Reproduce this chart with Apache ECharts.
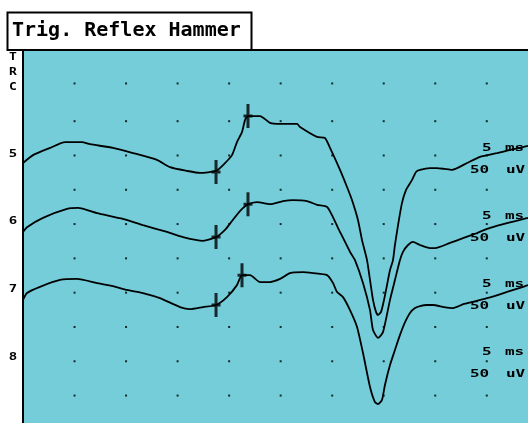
<!DOCTYPE html>
<html>
<head>
<meta charset="utf-8">
<script src="https://cdn.jsdelivr.net/npm/echarts@6/dist/echarts.min.js"></script>
<style>
  html, body { margin: 0; padding: 0; background: #fff; }
  #chart { width: 528px; height: 423px; }
</style>
</head>
<body>
<div id="chart"></div>
<script>
// x in ms, y in screen divisions (50 uV per division)
const trace5 = [
  [0, 6.78], [0.97, 7.01], [2.62, 7.22], [4.08, 7.39], [5.72, 7.39], [6.5, 7.33],
  [8.73, 7.22], [10.67, 7.07], [13.0, 6.87], [14.26, 6.66], [15.91, 6.55], [17.17, 6.49],
  [18.73, 6.55], [19.41, 6.72], [20.28, 7.01], [20.76, 7.39], [21.25, 7.68], [21.54, 8.03],
  [21.83, 8.15], [23.0, 8.15], [23.97, 7.95], [24.94, 7.92], [26.59, 7.92], [26.88, 7.83],
  [28.53, 7.54], [29.3, 7.51], [29.79, 7.22], [30.76, 6.58], [31.44, 6.08], [31.92, 5.7],
  [32.5, 5.12], [32.89, 4.54], [33.38, 3.95], [33.67, 3.37], [33.96, 2.79], [34.25, 2.44],
  [34.45, 2.35], [34.74, 2.44], [35.03, 2.79], [35.32, 3.22], [35.61, 3.66], [35.9, 3.95],
  [36.09, 4.39], [36.39, 4.97], [36.77, 5.61], [37.16, 5.99], [37.74, 6.28], [38.13, 6.52],
  [38.52, 6.58], [39.49, 6.63], [40.17, 6.63], [40.85, 6.61], [41.63, 6.58], [43.08, 6.78],
  [44.34, 6.96], [45.99, 7.07], [47.25, 7.16], [49.0, 7.28]
];
const trace6 = [
  [0, 4.77], [0.39, 4.91], [1.94, 5.18], [4.27, 5.44], [5.34, 5.47], [7.18, 5.32],
  [9.7, 5.15], [11.64, 4.97], [13.97, 4.77], [15.53, 4.62], [17.47, 4.51], [18.73, 4.62],
  [19.6, 4.83], [20.28, 5.09], [21.05, 5.38], [21.83, 5.58], [22.71, 5.64], [23.97, 5.58],
  [25.23, 5.67], [26.2, 5.7], [27.56, 5.67], [28.53, 5.56], [29.5, 5.5], [29.98, 5.26],
  [30.56, 4.89], [31.15, 4.54], [31.73, 4.19], [32.21, 3.95], [32.99, 3.28], [33.67, 2.49],
  [33.96, 1.91], [34.45, 1.68], [34.93, 1.85], [35.61, 2.79], [36.09, 3.37], [36.58, 3.95],
  [36.87, 4.19], [37.36, 4.39], [37.84, 4.48], [38.52, 4.39], [39.49, 4.3], [39.98, 4.3],
  [41.43, 4.45], [42.69, 4.59], [44.05, 4.74], [45.31, 4.89], [46.96, 5.03], [48.22, 5.12],
  [49.0, 5.18]
];
const trace7 = [
  [0, 2.79], [0.39, 2.99], [1.65, 3.17], [3.59, 3.37], [5.24, 3.4], [7.18, 3.28],
  [8.73, 3.19], [10.09, 3.08], [11.64, 2.99], [13.29, 2.84], [15.23, 2.58], [16.2, 2.52],
  [17.47, 2.58], [18.73, 2.64], [19.79, 2.87], [20.76, 3.22], [21.25, 3.51], [22.03, 3.51],
  [23.0, 3.31], [23.97, 3.31], [24.94, 3.4], [25.91, 3.57], [27.17, 3.6], [28.14, 3.57],
  [29.5, 3.51], [30.08, 3.28], [30.47, 3.02], [31.05, 2.87], [31.73, 2.49], [32.41, 2.0],
  [32.99, 1.24], [33.67, 0.25], [34.15, -0.19], [34.45, -0.25], [34.83, -0.13], [35.12, 0.31],
  [35.61, 0.89], [36.09, 1.33], [36.58, 1.77], [37.07, 2.14], [37.55, 2.41], [38.04, 2.55],
  [38.52, 2.61], [39.2, 2.64], [39.78, 2.64], [40.85, 2.58], [41.72, 2.55], [42.79, 2.67],
  [45.02, 2.84], [46.96, 3.02], [48.22, 3.14], [49.0, 3.22]
];
// latency cursors (onset / peak) on each trace
const cursors = [
  [18.73, 6.52], [21.83, 8.15],
  [18.73, 4.62], [21.83, 5.58],
  [18.73, 2.64], [21.25, 3.51]
];
const dotTimes = [5, 10, 15, 20, 25, 30, 35, 40, 45];
const dotLevels = [0, 1, 2, 3, 4, 5, 6, 7, 8, 9.1];
const channels = ['5', '6', '7', '8'];
const sideLetters = ['T', 'R', 'C'];
const titleText = 'Trig. Reflex Hammer';
const scaleTime = ['5', 'ms'];
const scaleAmp = ['50', 'uV'];

const dots = [];
dotTimes.forEach(t => dotLevels.forEach(v => dots.push([t, v])));

const cyan = '#74cdd9';
const smallFont = 'bold 10px "DejaVu Sans Mono"';
const scaleFont = 'bold 11px "DejaVu Sans Mono"';

const graphic = [
  { type: 'rect', z: 100, shape: { x: 7.5, y: 12.5, width: 244, height: 37.5 },
    style: { fill: '#fff', stroke: '#000', lineWidth: 2 } },
  { type: 'text', z: 101, x: 12, y: 31,
    style: { text: titleText, font: 'bold 20px "DejaVu Sans Mono"', fill: '#000', verticalAlign: 'middle' } }
];
sideLetters.forEach((s, i) => {
  graphic.push({ type: 'text', z: 101, x: 13, y: 57 + i * 15, scaleX: 1.3,
    style: { text: s, font: smallFont, fill: '#000', align: 'center', verticalAlign: 'middle' } });
});
channels.forEach((c, i) => {
  graphic.push({ type: 'text', z: 101, x: 13, y: 154 + i * 67.7, scaleX: 1.4,
    style: { text: c, font: smallFont, fill: '#000', align: 'center', verticalAlign: 'middle' } });
  const yMs = 148 + i * 68, yUv = 170 + i * 68;
  graphic.push({ type: 'text', z: 101, x: 482, y: yMs, scaleX: 1.45,
    style: { text: scaleTime[0], font: scaleFont, fill: '#000', verticalAlign: 'middle' } });
  graphic.push({ type: 'text', z: 101, x: 505, y: yMs, scaleX: 1.45,
    style: { text: scaleTime[1], font: scaleFont, fill: '#000', verticalAlign: 'middle' } });
  graphic.push({ type: 'text', z: 101, x: 470, y: yUv, scaleX: 1.45,
    style: { text: scaleAmp[0], font: scaleFont, fill: '#000', verticalAlign: 'middle' } });
  graphic.push({ type: 'text', z: 101, x: 506, y: yUv, scaleX: 1.45,
    style: { text: scaleAmp[1], font: scaleFont, fill: '#000', verticalAlign: 'middle' } });
});

function traceSeries(data) {
  return {
    type: 'line', data: data, showSymbol: false, smooth: 0.2, silent: true, z: 5,
    lineStyle: { color: '#000', width: 1.8 }
  };
}

const myChart = echarts.init(document.getElementById('chart'));
const option = {
  backgroundColor: '#fff',
  animation: false,
  grid: { left: 23, right: 0, top: 50, bottom: 0, show: true, backgroundColor: cyan, borderWidth: 0 },
  xAxis: {
    type: 'value', min: 0, max: 49, position: 'top',
    axisLine: { show: true, onZero: false, lineStyle: { color: '#000', width: 2 } },
    axisTick: { show: false }, axisLabel: { show: false }, splitLine: { show: false }
  },
  yAxis: {
    type: 'value', min: -0.8, max: 10.075,
    axisLine: { show: true, onZero: false, lineStyle: { color: '#000', width: 2 } },
    axisTick: { show: false }, axisLabel: { show: false }, splitLine: { show: false }
  },
  series: [
    { type: 'scatter', data: dots, symbol: 'rect', symbolSize: 2, silent: true,
      itemStyle: { color: '#000' }, z: 3 },
    traceSeries(trace5),
    traceSeries(trace6),
    traceSeries(trace7),
    { type: 'scatter', data: cursors, silent: true, z: 6,
      symbol: 'path://M3,0H6V10.5H9V13.5H6V24H3V13.5H0V10.5H3Z',
      symbolSize: [9, 24], itemStyle: { color: '#000' } }
  ],
  graphic: graphic
};
myChart.setOption(option);
</script>
</body>
</html>
